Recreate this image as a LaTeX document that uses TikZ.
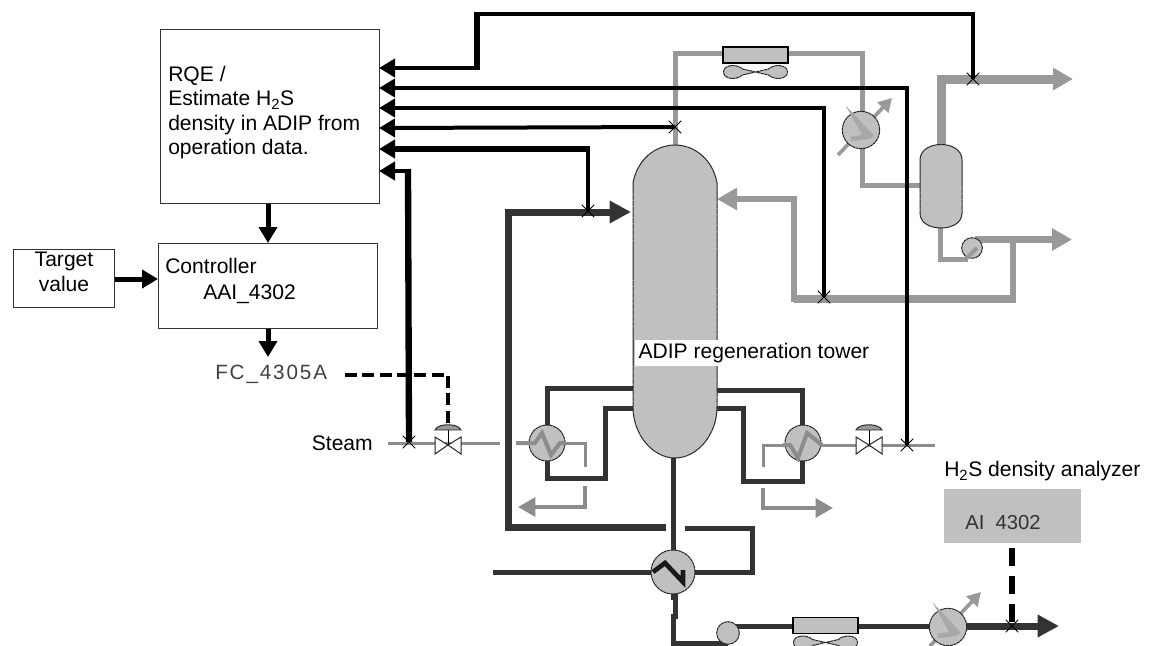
\documentclass[tikz,border=0pt]{standalone}
\usepackage{fontspec}
\setmainfont{Liberation Sans}
\usetikzlibrary{arrows.meta,backgrounds}
\definecolor{eqfill}{HTML}{C0C0C0}
\definecolor{gstream}{HTML}{999999}
\definecolor{gthin}{HTML}{8C8C8C}
\definecolor{dstream}{HTML}{333333}
\tikzset{
  x=0.75pt,y=-0.75pt,
  lbl/.style={font=\fontsize{15.8pt}{18.3pt}\selectfont,inner sep=0pt,align=left},
  blockbox/.style={draw=black!80,line width=1.1pt,fill=white,inner sep=0pt},
  eqline/.style={draw=black!85,line width=0.75pt,dash pattern=on 2.4pt off 0.4pt,fill=eqfill},
  hxbody/.style={circle,eqline,inner sep=0pt,minimum size=27pt},
  pumpbody/.style={circle,eqline,inner sep=0pt,minimum size=15.5pt},
  crossmark/.style={inner sep=0pt,minimum size=9.5pt,path picture={
     \draw[black,line width=0.7pt] (path picture bounding box.north west)--(path picture bounding box.south east)
        (path picture bounding box.north east)--(path picture bounding box.south west);}},
  bk/.style={draw=black,line join=miter},
  gs/.style={draw=gstream,line join=miter},
  ds/.style={draw=dstream,line join=miter},
  gt/.style={draw=gthin,line join=miter},
  bktip/.style={-{Triangle[length=12pt,width=13.5pt]}},
  gstip/.style={-{Triangle[length=15pt,width=16pt]}},
  gttip/.style={-{Triangle[length=13pt,width=14pt]}},
  smalltip/.style={-{Triangle[length=10pt,width=11pt]}},
  dstip/.style={-{Triangle[length=16pt,width=16pt]}},
  zig/.style={draw=gstream,line width=3pt,line join=miter},
  pics/ctrlvalve/.style={code={
    \draw[black,line width=0.7pt] (0,-15)--(0,0);
    \draw[black!85,line width=0.7pt,fill=gstream] (-13,-15) .. controls (-10,-22) and (10,-22) .. (13,-15) -- cycle;
    \draw[black!85,line width=0.75pt,fill=white] (-13,-8)--(0,0)--(-13,9)--cycle (13,-8)--(0,0)--(13,9)--cycle;
  }},
  pics/aircooler/.style={code={
    \draw[black,line width=1pt,fill=eqfill] (-32.5,-8) rectangle (32.5,8);
    \draw[black!85,line width=0.75pt,dash pattern=on 2.4pt off 0.4pt,fill=eqfill] (-32,17)
      .. controls (-32,9) and (-18,9) .. (-13,14) -- (0,17) -- (13,14)
      .. controls (18,9) and (32,9) .. (32,17)
      .. controls (32,25) and (18,25) .. (13,20) -- (0,17) -- (-13,20)
      .. controls (-18,25) and (-32,25) .. (-32,17) -- cycle;
  }},
}
\begin{document}
\begin{tikzpicture}
\useasboundingbox (0,0) rectangle (1150,646);
\clip (0,0) rectangle (1150,646);

% blocks
\node[blockbox,anchor=north west,minimum width=164.25pt,minimum height=130.5pt] (rqe) at (160,29) {};
\node[blockbox,anchor=north west,minimum width=164.25pt,minimum height=63.75pt] (ctrl) at (158,243) {};
\node[blockbox,anchor=north west,minimum width=75.75pt,minimum height=43.5pt] (target) at (13,249) {};
\node[lbl,align=center] (targettext) at (64,272) {Target\\value};
\node[lbl,anchor=north west,align=left] (rqetext) at (168,66) {RQE /\\Estimate H\textsubscript{2}S\\density in ADIP from\\operation data.};
\node[lbl,anchor=west] (ctrltext) at (165,266) {Controller};
\node[lbl,anchor=west] (ctrltag) at (203,294) {AAI\_4302};
\node[anchor=west,inner sep=0pt,text=black!75,font=\fontsize{15.5pt}{17pt}\selectfont\addfontfeature{LetterSpace=9}] (fc) at (215,374) {FC\_4305A};
\node[lbl,anchor=east] (steam) at (373,443) {Steam};
\node[lbl,anchor=west] (h2slabel) at (944,471) {H\textsubscript{2}S density analyzer};
\node[fill=eqfill,anchor=north west,inner sep=0pt,minimum width=102.75pt,minimum height=40.5pt] (analyzer) at (944,489) {};
\node[anchor=west,inner sep=0pt,text=black!80,font=\fontsize{15.2pt}{17pt}\selectfont] (aitext) at (965,523) {AI\ \ 4302};

% equipment
\filldraw[black!85,fill=eqfill,line width=0.75pt,dash pattern=on 4pt off 0.3pt]
  (633,183) .. controls (637,160) and (655,145) .. (675,145) .. controls (695,145) and (713,160) .. (717,183)
  -- (717,407) .. controls (717,435) and (697,458) .. (675,458) .. controls (653,458) and (633,435) .. (633,407) -- cycle;
\node[inner sep=0pt,minimum width=63pt,minimum height=234.75pt] (tower) at (675,301.5) {};
\filldraw[black!85,fill=eqfill,line width=0.75pt,dash pattern=on 4pt off 0.3pt]
  (920,160) .. controls (920,150) and (930,144.5) .. (941,144.5) .. controls (952,144.5) and (962,150) .. (962,160)
  -- (962,213) .. controls (962,223) and (952,228) .. (941,228) .. controls (930,228) and (920,223) .. (920,213) -- cycle;
\node[inner sep=0pt,minimum width=31.5pt,minimum height=62pt] (drum) at (941,186) {};
\node[hxbody,minimum size=28pt] (cond1) at (861,130) {};
\node[hxbody] (reb1) at (547,443) {};
\node[hxbody] (reb2) at (803,443) {};
\node[hxbody,minimum size=33pt] (hx) at (673,572) {};
\node[hxbody,minimum size=28pt] (cond2) at (948,627) {};
\node[pumpbody] (pump1) at (972,248) {};
\node[pumpbody,minimum size=17pt] (pump2) at (728,633) {};
\pic at (755.5,55) {aircooler};
\pic at (825.5,625.5) {aircooler};
\pic at (448,445) {ctrlvalve};
\pic at (869,445) {ctrlvalve};
\coordinate (valve1) at (448,445);
\coordinate (valve2) at (869,445);

% cross marks
\node[crossmark] (x1) at (973,79) {};
\node[crossmark] (x2) at (907,445) {};
\node[crossmark] (x3) at (824,297) {};
\node[crossmark] (x4) at (675,127) {};
\node[crossmark] (x5) at (588,211) {};
\node[crossmark] (x6) at (409,442) {};
\node[crossmark] (x7) at (1012,626) {};

% named free ends
\coordinate (in1) at (379,68);
\coordinate (in2) at (379,88);
\coordinate (in3) at (379,108);
\coordinate (in4) at (379,128);
\coordinate (in5) at (379,149);
\coordinate (in6) at (379,171);
\coordinate (c2) at (477,14);
\coordinate (c3) at (973,14);
\coordinate (feedend) at (666,527);
\coordinate (feedcorner) at (508,527);
\coordinate (feedtop) at (508,212);
\coordinate (feedtip) at (631,212);

\begin{scope}[on background layer]
  % gray streams
  \draw[gs,line width=3.75pt] (675,145) -- (675,53) -- (723,53);
  \draw[gs,line width=3.75pt] (788,53) -- (862,53) -- (862,112);
  \draw[gs,line width=3.75pt] (862,148) -- (862,185) -- (920,185);
  \draw[gs,line width=6.75pt] (941,145) -- (941,79) -- (1030,79);
  \draw[gs,line width=6.75pt,gstip] (1030,79) -- (1073,79);
  \draw[gs,line width=3.75pt] (940,228) -- (940,259) -- (968,259);
  \draw[gs,line width=5.25pt,gstip] (975,239.5) -- (1072,239.5);
  \draw[gs,line width=4.5pt] (1013,240) -- (1013,299);
  \draw[gs,line width=6pt] (1016,299) -- (794,299);
  \draw[gs,line width=4.5pt] (794,302) -- (794,199) -- (755,199);
  \draw[gs,line width=4.5pt,gstip] (760,199) -- (717,199);
  \draw[gs,line width=2.75pt,smalltip] (838,155) -- (892,98);
  \draw[gs,line width=2.75pt,smalltip] (930,646) -- (981,592);
  % thin utility streams
  \draw[gt,line width=2.25pt] (388,443) -- (500,443);
  \draw[gt,line width=2.25pt] (516,443) -- (585,443) -- (585,467);
  \draw[gt,line width=3pt,gttip] (585,486) -- (585,507) -- (518,507);
  \draw[gt,line width=2.25pt] (935,445) -- (763,445) -- (763,467);
  \draw[gt,line width=3pt,gttip] (763,488) -- (763,508) -- (833,508);
  % dark process streams
  \draw[ds,line width=3.75pt] (tower.west|-0,388) -- (547,388) -- (547,478) -- (605,478) -- (605,408) -- (tower.west|-0,408);
  \draw[ds,line width=3.75pt] (tower.east|-0,390) -- (802,390) -- (802,481) -- (743,481) -- (743,408) -- (tower.east|-0,408);
  \draw[ds,line width=3.75pt] (673,458) -- (673,600);
  \draw[ds,line width=3.75pt] (675,590) -- (675,616) -- (673,616) -- (673,643) -- (728,643);
  \draw[ds,line width=3.75pt] (493,572.5) -- (752,572.5) -- (752,528) -- (685,528);
  \draw[ds,line width=5.25pt] (feedend) -- (feedcorner) -- (feedtop) -- (590,212);
  \draw[ds,line width=5.25pt,dstip] (590,212) -- (feedtip);
  \draw[ds,line width=3.75pt] (728,626) -- (793,626);
  \draw[ds,line width=3.75pt] (858,626) -- (935,626);
  \draw[ds,line width=5.25pt,dstip] (960,626) -- (1059,626);
  % signals
  \draw[bk,line width=3pt,bktip] (480,68) -- (in1);
  \draw[bk,line width=4pt] (477,70) -- (477,12);
  \draw[bk,line width=2.75pt] (c2) -- (c3) -- (x1.center);
  \draw[bk,line width=3pt,bktip] (909,88) -- (in2);
  \draw[bk,line width=3pt] (907,86) -- (x2.center);
  \draw[bk,line width=3pt,bktip] (826,108) -- (in3);
  \draw[bk,line width=3pt] (824,106) -- (x3.center);
  \draw[bk,line width=3pt,bktip] (x4.center) -- (in4);
  \draw[bk,line width=4.5pt,bktip] (590,149) -- (in5);
  \draw[bk,line width=3pt] (588,146) -- (x5.center);
  \draw[bk,line width=3pt,bktip] (411,171) -- (in6);
  \draw[bk,line width=4.75pt] (408,169) -- (x6.center);
  \draw[bk,line width=3.75pt,bktip] (rqe.south-|268,0) -- (ctrl.north-|268,0);
  \draw[bk,line width=3.75pt,bktip] (ctrl.south-|268,0) -- (268,357);
  \draw[bk,line width=3.75pt,bktip] (target.east|-0,279) -- (ctrl.west|-0,279);
  \draw[bk,line width=3pt,dash pattern=on 9pt off 4pt] (345,375) -- (448,375) -- (448,424);
  \draw[bk,line width=4.5pt,dash pattern=on 13.5pt off 7.5pt] (analyzer.south-|1012,0) ++(0,4) -- (x7.center);
\end{scope}

% exchanger internals
\definecolor{ziglight}{HTML}{A8A8A8}
\draw[zig,draw=gthin] (516,443) -- (535,443) -- (542,433) -- (551,455) -- (560,443) -- (566,443);
\draw[zig,draw=gthin] (822,445) -- (807,433) -- (798,458) -- (790,445) -- (783,445);
\draw[zig,draw=ziglight,line width=3.5pt] (851,139) -- (866,137) -- (857,121) -- (872,137);
\draw[zig,draw=ziglight,line width=3.5pt] (938,636) -- (953,634) -- (944,618) -- (959,634);
\draw[draw=black!90,line width=3.5pt,line join=miter] (653,572) -- (665,563) -- (683,582) -- (683,570);
\draw[gs,line width=3pt] (967,258) -- (977,248);

% tower label
\node[lbl,anchor=west,fill=white,inner xsep=2.5pt,minimum height=19.5pt] (towerlabel) at (635,353) {\raisebox{3pt}{ADIP regeneration tower}};
\draw[black!70,line width=0.6pt] (633.5,340) -- (633.5,366);
\end{tikzpicture}
\end{document}
